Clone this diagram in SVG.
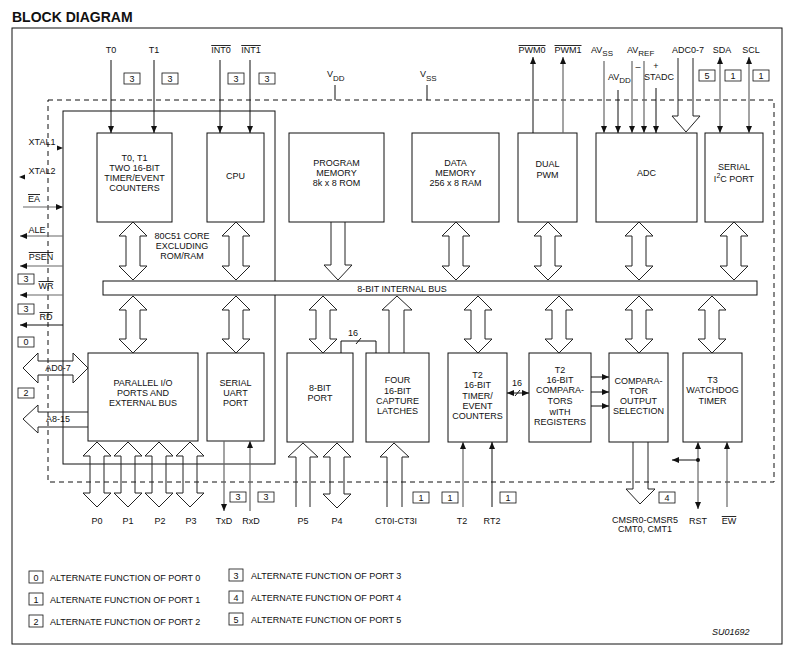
<svg xmlns="http://www.w3.org/2000/svg" width="795" height="654" viewBox="0 0 795 654">
<defs>
<style>
text{font-family:"Liberation Sans",Arial,sans-serif;font-size:9px;fill:#111}
.c{text-anchor:middle}
.ov{text-decoration:overline}
.box{fill:#fff;stroke:#111;stroke-width:1}
.ln{fill:none;stroke:#111;stroke-width:1}
.gl{fill:none;stroke:#666;stroke-width:1.2}
.ar{fill:none;stroke:#222;stroke-width:1}
.lg{fill:#fff;stroke:#111;stroke-width:0.8}
.dash{fill:none;stroke:#111;stroke-width:1;stroke-dasharray:5,4}
.title{font-size:14px;font-weight:bold}
</style>
<marker id="ah" viewBox="0 0 7 6" refX="7" refY="3" markerWidth="7" markerHeight="6" markerUnits="userSpaceOnUse" orient="auto-start-reverse"><path d="M0,0 L7,3 L0,6 z" fill="#111"/></marker>
</defs>
<rect x="0" y="0" width="795" height="654" fill="#fff"/>
<text class="title" x="12" y="22">BLOCK DIAGRAM</text>
<rect x="12" y="28" width="770" height="616" fill="none" stroke="#111" stroke-width="1"/>

<g id="chip-boundary">
<rect class="dash" x="48" y="100" width="726" height="382"/>
<line class="ln" x1="335" y1="85" x2="335" y2="100"/>
<line class="ln" x1="427" y1="85" x2="427" y2="100"/>
<text x="327" y="77">V<tspan dy="4" font-size="8">DD</tspan></text>
<text x="420" y="77">V<tspan dy="4" font-size="8">SS</tspan></text>
</g>

<g id="core-80c51">
<rect class="ln" x="63" y="111" width="212" height="353"/>
<text class="c" x="182" y="239">80C51 CORE</text>
<text class="c" x="182" y="249">EXCLUDING</text>
<text class="c" x="182" y="259">ROM/RAM</text>
</g>

<g id="internal-bus">
<rect class="box" x="103" y="281" width="654" height="14"/>
<text class="c" x="402" y="292">8-BIT INTERNAL BUS</text>
</g>

<g id="timer01">
<rect class="box" x="97" y="133" width="75" height="89"/>
<text class="c" x="134.5" y="161">T0, T1</text>
<text class="c" x="134.5" y="171">TWO 16-BIT</text>
<text class="c" x="134.5" y="181">TIMER/EVENT</text>
<text class="c" x="134.5" y="191">COUNTERS</text>
</g>
<g id="cpu">
<rect class="box" x="207" y="133" width="57" height="89"/>
<text class="c" x="235.5" y="179">CPU</text>
</g>
<g id="program-memory">
<rect class="box" x="289" y="133" width="95" height="89"/>
<text class="c" x="336.5" y="166">PROGRAM</text>
<text class="c" x="336.5" y="176">MEMORY</text>
<text class="c" x="336.5" y="186">8k x 8 ROM</text>
</g>
<g id="data-memory">
<rect class="box" x="412" y="133" width="87" height="89"/>
<text class="c" x="455.5" y="166">DATA</text>
<text class="c" x="455.5" y="176">MEMORY</text>
<text class="c" x="455.5" y="186">256 x 8 RAM</text>
</g>
<g id="dual-pwm">
<rect class="box" x="518" y="133" width="59" height="89"/>
<text class="c" x="547.5" y="167">DUAL</text>
<text class="c" x="547.5" y="178">PWM</text>
</g>
<g id="adc">
<rect class="box" x="596" y="133" width="101" height="89"/>
<text class="c" x="646.5" y="176">ADC</text>
</g>
<g id="serial-i2c">
<rect class="box" x="705" y="133" width="58" height="89"/>
<text class="c" x="734" y="170">SERIAL</text>
<text class="c" x="734" y="182">I<tspan dy="-4" font-size="7">2</tspan><tspan dy="4">C PORT</tspan></text>
</g>

<g id="parallel-io">
<rect class="box" x="88" y="353" width="110" height="88"/>
<text class="c" x="143" y="386">PARALLEL I/O</text>
<text class="c" x="143" y="396">PORTS AND</text>
<text class="c" x="143" y="406">EXTERNAL BUS</text>
</g>
<g id="serial-uart">
<rect class="box" x="207" y="353" width="57" height="88"/>
<text class="c" x="235.5" y="386">SERIAL</text>
<text class="c" x="235.5" y="396">UART</text>
<text class="c" x="235.5" y="406">PORT</text>
</g>
<g id="port-8bit">
<rect class="box" x="287" y="353" width="66" height="89"/>
<text class="c" x="320" y="391">8-BIT</text>
<text class="c" x="320" y="401">PORT</text>
</g>
<g id="capture-latches">
<rect class="box" x="366" y="353" width="63" height="89"/>
<text class="c" x="397.5" y="383">FOUR</text>
<text class="c" x="397.5" y="394">16-BIT</text>
<text class="c" x="397.5" y="404">CAPTURE</text>
<text class="c" x="397.5" y="414">LATCHES</text>
</g>
<g id="t2-timer">
<rect class="box" x="448" y="353" width="59" height="89"/>
<text class="c" x="477.5" y="378">T2</text>
<text class="c" x="477.5" y="388">16-BIT</text>
<text class="c" x="477.5" y="399">TIMER/</text>
<text class="c" x="477.5" y="409">EVENT</text>
<text class="c" x="477.5" y="419">COUNTERS</text>
</g>
<g id="t2-comparators">
<rect class="box" x="529" y="353" width="62" height="89"/>
<text class="c" x="560" y="373">T2</text>
<text class="c" x="560" y="383">16-BIT</text>
<text class="c" x="560" y="393">COMPARA-</text>
<text class="c" x="560" y="404">TORS</text>
<text class="c" x="560" y="415">wITH</text>
<text class="c" x="560" y="425">REGISTERS</text>
</g>
<g id="comparator-output">
<rect class="box" x="609" y="353" width="59" height="89"/>
<text class="c" x="638.5" y="384">COMPARA-</text>
<text class="c" x="638.5" y="394">TOR</text>
<text class="c" x="638.5" y="404">OUTPUT</text>
<text class="c" x="638.5" y="414">SELECTION</text>
</g>
<g id="t3-watchdog">
<rect class="box" x="683" y="353" width="59" height="89"/>
<text class="c" x="712.5" y="383">T3</text>
<text class="c" x="712.5" y="393">WATCHDOG</text>
<text class="c" x="712.5" y="404">TIMER</text>
</g>

<g id="connectors">
<!-- bus arrows upper -->
<path class="ar" d="M133,222 L147,236 H140 V266 H147 L133,280 L119,266 H126 V236 H119 Z"/>
<path class="ar" d="M236,222 L250,236 H243 V266 H250 L236,280 L222,266 H229 V236 H222 Z"/>
<path class="ar" d="M331,222 V265 H324 L338,280 L352,265 H345 V222"/>
<path class="ar" d="M456,222 L470,236 H463 V266 H470 L456,280 L442,266 H449 V236 H442 Z"/>
<path class="ar" d="M548,222 L562,236 H555 V266 H562 L548,280 L534,266 H541 V236 H534 Z"/>
<path class="ar" d="M639,222 L653,236 H646 V266 H653 L639,280 L625,266 H632 V236 H625 Z"/>
<path class="ar" d="M734,222 L748,236 H741 V266 H748 L734,280 L720,266 H727 V236 H720 Z"/>
<!-- bus arrows lower -->
<path class="ar" d="M133,296 L147,310 H140 V339 H147 L133,353 L119,339 H126 V310 H119 Z"/>
<path class="ar" d="M236,296 L250,310 H243 V339 H250 L236,353 L222,339 H229 V310 H222 Z"/>
<path class="ar" d="M323,296 L337,310 H330 V339 H337 L323,353 L309,339 H316 V310 H309 Z"/>
<path class="ar" d="M389,353 V310 H382 L397,296 L412,310 H404 V353"/>
<path class="ar" d="M478,296 L492,310 H485 V339 H492 L478,353 L464,339 H471 V310 H464 Z"/>
<path class="ar" d="M559,296 L573,310 H566 V339 H573 L559,353 L545,339 H552 V310 H545 Z"/>
<path class="ar" d="M639,296 L653,310 H646 V339 H653 L639,353 L625,339 H632 V310 H625 Z"/>
<path class="ar" d="M712,296 L726,310 H719 V339 H726 L712,353 L698,339 H705 V310 H698 Z"/>
<!-- 16-bit link port to capture -->
<path class="ln" d="M341,353 V341 H376 V353"/>
<line class="ln" x1="356" y1="344" x2="361" y2="338"/>
<text x="348" y="336">16</text>
<!-- T2 timer to comparators -->
<line class="ln" x1="507" y1="393" x2="529" y2="393" marker-start="url(#ah)" marker-end="url(#ah)"/>
<line class="ln" x1="515" y1="396" x2="520" y2="390"/>
<text x="512" y="386">16</text>
<!-- comparators to output -->
<line class="ln" x1="591" y1="377" x2="609" y2="377" marker-end="url(#ah)"/>
<line class="ln" x1="591" y1="392" x2="609" y2="392" marker-end="url(#ah)"/>
<line class="ln" x1="591" y1="406" x2="609" y2="406" marker-end="url(#ah)"/>
<!-- top inputs -->
<line class="ln" x1="111" y1="60" x2="111" y2="133" marker-end="url(#ah)"/>
<line class="ln" x1="154" y1="60" x2="154" y2="133" marker-end="url(#ah)"/>
<line class="ln" x1="220" y1="60" x2="220" y2="133" marker-end="url(#ah)"/>
<line class="ln" x1="250" y1="60" x2="250" y2="133" marker-end="url(#ah)"/>
<line class="ln" x1="533" y1="133" x2="533" y2="57" marker-end="url(#ah)"/>
<line class="gl" x1="563" y1="133" x2="563" y2="57" marker-end="url(#ah)"/>
<line class="gl" x1="604" y1="61" x2="604" y2="133" marker-end="url(#ah)"/>
<line class="ln" x1="618" y1="90" x2="618" y2="133" marker-end="url(#ah)"/>
<line class="gl" x1="632" y1="61" x2="632" y2="133" marker-end="url(#ah)"/>
<line class="gl" x1="644" y1="61" x2="644" y2="133" marker-end="url(#ah)"/>
<line class="ln" x1="656" y1="88" x2="656" y2="133" marker-end="url(#ah)"/>
<path class="ar" d="M678,58 V116 H672 L686,132 L700,116 H693 V58"/>
<line class="gl" x1="720" y1="57" x2="720" y2="133" marker-start="url(#ah)" marker-end="url(#ah)"/>
<line class="gl" x1="749" y1="57" x2="749" y2="133" marker-start="url(#ah)" marker-end="url(#ah)"/>
<!-- left side -->
<path d="M57,145.5 L63,148 L57,150.5 z" fill="#111"/>
<path d="M25,174.5 L19,177 L25,179.5 z" fill="#111"/>
<line class="gl" x1="23" y1="207" x2="63" y2="207" marker-end="url(#ah)"/>
<line class="gl" x1="63" y1="236" x2="20" y2="236" marker-end="url(#ah)"/>
<line class="gl" x1="63" y1="266" x2="20" y2="266" marker-end="url(#ah)"/>
<line class="gl" x1="63" y1="295" x2="20" y2="295" marker-end="url(#ah)"/>
<line class="ln" x1="63" y1="325" x2="20" y2="325" marker-end="url(#ah)"/>
<path class="ar" d="M23,368 L38,353 V361 H73 V353 L88,368 L73,383 V375 H38 V383 Z"/>
<path class="ar" d="M88,412 H38 V405 L23,419 L38,433 V427 H88"/>
<!-- bottom ports -->
<path class="ar" d="M97,442 L111,456 H104 V493 H111 L97,507 L83,493 H90 V456 H83 Z"/>
<path class="ar" d="M128,442 L142,456 H135 V493 H142 L128,507 L114,493 H121 V456 H114 Z"/>
<path class="ar" d="M159,442 L173,456 H166 V493 H173 L159,507 L145,493 H152 V456 H145 Z"/>
<path class="ar" d="M190,442 L204,456 H197 V493 H204 L190,507 L176,493 H183 V456 H176 Z"/>
<line class="gl" x1="224" y1="441" x2="224" y2="511" marker-end="url(#ah)"/>
<line class="gl" x1="250" y1="511" x2="250" y2="441" marker-end="url(#ah)"/>
<path class="ar" d="M296,507 V457 H288 L303,443 L318,457 H310 V507"/>
<path class="ar" d="M337,443 L351,457 H344 V494 H351 L337,508 L323,494 H330 V457 H323 Z"/>
<path class="ar" d="M387,507 V457 H380 L394,443 L409,457 H402 V507"/>
<line class="gl" x1="463" y1="507" x2="463" y2="442" marker-end="url(#ah)"/>
<line class="ln" x1="492" y1="507" x2="492" y2="442" marker-end="url(#ah)"/>
<path class="ar" d="M633,442 V489 H626 L640,504 L655,489 H648 V442"/>
<line class="gl" x1="698" y1="442" x2="698" y2="509" marker-start="url(#ah)" marker-end="url(#ah)"/>
<circle cx="698" cy="460" r="2" fill="#111"/>
<line class="ln" x1="698" y1="460" x2="672" y2="460" marker-end="url(#ah)"/>
<line class="gl" x1="727" y1="507" x2="727" y2="442" marker-end="url(#ah)"/>
</g>

<g id="pin-labels">
<text class="c" x="111" y="53">T0</text>
<text class="c" x="154" y="53">T1</text>
<text class="c ov" x="221" y="53">INT0</text>
<text class="c ov" x="251" y="53">INT1</text>
<text class="c ov" x="532" y="53">PWM0</text>
<text class="c ov" x="568" y="53">PWM1</text>
<text x="591" y="53">AV<tspan dy="3" font-size="8">SS</tspan></text>
<text x="608" y="80">AV<tspan dy="3" font-size="8">DD</tspan></text>
<text x="627" y="53">AV<tspan dy="3" font-size="8">REF</tspan></text>
<text x="638" y="70" class="c">–</text>
<text x="656" y="69" class="c">+</text>
<text class="c" x="659" y="80">STADC</text>
<text class="c" x="688" y="53">ADC0-7</text>
<text class="c" x="722" y="53">SDA</text>
<text class="c" x="751" y="53">SCL</text>
<text class="c" x="42" y="145">XTAL1</text>
<text class="c" x="42" y="174">XTAL2</text>
<text class="c ov" x="34" y="202">EA</text>
<text class="c" x="37" y="233">ALE</text>
<text class="c ov" x="41" y="260">PSEN</text>
<text class="c ov" x="46" y="289">WR</text>
<text class="c ov" x="46" y="320">RD</text>
<text class="c" x="58" y="371">AD0-7</text>
<text class="c" x="58" y="422">A8-15</text>
<text class="c" x="97" y="524">P0</text>
<text class="c" x="128" y="524">P1</text>
<text class="c" x="160" y="524">P2</text>
<text class="c" x="191" y="524">P3</text>
<text class="c" x="224" y="524">TxD</text>
<text class="c" x="251" y="524">RxD</text>
<text class="c" x="303" y="524">P5</text>
<text class="c" x="337" y="524">P4</text>
<text class="c" x="396" y="524">CT0I-CT3I</text>
<text class="c" x="462" y="524">T2</text>
<text class="c" x="492" y="524">RT2</text>
<text class="c" x="645" y="523">CMSR0-CMSR5</text>
<text class="c" x="645" y="532">CMT0, CMT1</text>
<text class="c" x="698" y="524">RST</text>
<text class="c ov" x="729" y="524">EW</text>
</g>

<g id="port-tags">
<rect class="lg" x="124" y="73" width="16" height="11"/><text class="c" x="132" y="82">3</text>
<rect class="lg" x="162" y="73" width="16" height="11"/><text class="c" x="170" y="82">3</text>
<rect class="lg" x="228" y="73" width="16" height="11"/><text class="c" x="236" y="82">3</text>
<rect class="lg" x="259" y="73" width="16" height="11"/><text class="c" x="267" y="82">3</text>
<rect class="lg" x="699" y="70" width="16" height="11"/><text class="c" x="707" y="79">5</text>
<rect class="lg" x="725" y="70" width="16" height="11"/><text class="c" x="733" y="79">1</text>
<rect class="lg" x="753" y="70" width="16" height="11"/><text class="c" x="761" y="79">1</text>
<rect class="lg" x="18" y="274" width="16" height="10"/><text class="c" x="26" y="282">3</text>
<rect class="lg" x="18" y="304" width="16" height="10"/><text class="c" x="26" y="312">3</text>
<rect class="lg" x="18" y="337" width="16" height="10"/><text class="c" x="26" y="345">0</text>
<rect class="lg" x="18" y="388" width="16" height="10"/><text class="c" x="26" y="396">2</text>
<rect class="lg" x="230" y="492" width="16" height="10"/><text class="c" x="238" y="500">3</text>
<rect class="lg" x="258" y="492" width="16" height="10"/><text class="c" x="266" y="500">3</text>
<rect class="lg" x="413" y="492" width="16" height="11"/><text class="c" x="421" y="501">1</text>
<rect class="lg" x="442" y="492" width="16" height="11"/><text class="c" x="450" y="501">1</text>
<rect class="lg" x="500" y="492" width="16" height="11"/><text class="c" x="508" y="501">1</text>
<rect class="lg" x="659" y="492" width="16" height="11"/><text class="c" x="667" y="501">4</text>
</g>

<g id="legend">
<rect class="lg" x="29" y="571" width="14" height="12"/><text class="c" x="36" y="581">0</text>
<text x="50" y="581">ALTERNATE FUNCTION OF PORT 0</text>
<rect class="lg" x="29" y="593" width="14" height="12"/><text class="c" x="36" y="603">1</text>
<text x="50" y="603">ALTERNATE FUNCTION OF PORT 1</text>
<rect class="lg" x="29" y="615" width="14" height="12"/><text class="c" x="36" y="625">2</text>
<text x="50" y="625">ALTERNATE FUNCTION OF PORT 2</text>
<rect class="lg" x="229" y="569" width="14" height="12"/><text class="c" x="236" y="579">3</text>
<text x="251" y="579">ALTERNATE FUNCTION OF PORT 3</text>
<rect class="lg" x="229" y="591" width="14" height="12"/><text class="c" x="236" y="601">4</text>
<text x="251" y="601">ALTERNATE FUNCTION OF PORT 4</text>
<rect class="lg" x="229" y="613" width="14" height="12"/><text class="c" x="236" y="623">5</text>
<text x="251" y="623">ALTERNATE FUNCTION OF PORT 5</text>
<text x="712" y="635" font-style="italic">SU01692</text>
</g>
</svg>
